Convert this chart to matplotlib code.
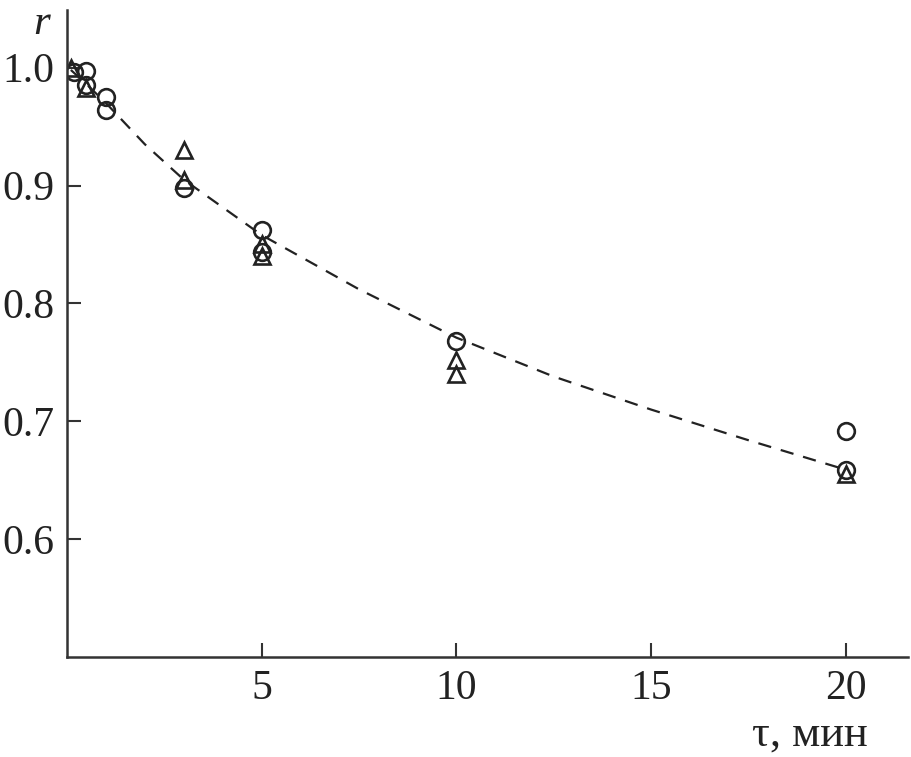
import matplotlib
matplotlib.use('Agg')
import matplotlib.pyplot as plt

# circles
circ_t = [0.17, 0.5, 0.5, 1.0, 1.0, 3, 5, 5, 10, 20, 20]
circ_r = [0.996, 0.997, 0.985, 0.975, 0.964, 0.898, 0.862, 0.844, 0.768, 0.692, 0.659]

# triangles
tri_t = [0.1, 0.5, 3, 3, 5, 5, 10, 10, 20]
tri_r = [1.0, 0.983, 0.930, 0.905, 0.850, 0.840, 0.752, 0.740, 0.655]

# dashed fit curve
fit_t = [0.1, 0.5, 1, 2, 3, 5, 7.5, 10, 12.5, 15, 17.5, 20]
fit_r = [0.998, 0.986, 0.970, 0.935, 0.905, 0.858, 0.812, 0.771, 0.738, 0.710, 0.684, 0.659]

xticks = [5, 10, 15, 20]
yticks = [0.6, 0.7, 0.8, 0.9, 1.0]

plt.rcParams['font.family'] = ['Liberation Serif', 'DejaVu Serif']

fig = plt.figure(figsize=(9.11, 7.57), dpi=100)
ax = fig.add_axes([0.0735, 0.132, 0.923, 0.855])

ax.plot(fit_t, fit_r, '--', color='#222222', lw=1.6, dashes=(6, 4.5), zorder=1)
ax.plot(circ_t, circ_r, 'o', ms=12, mfc='none', mec='#222222', mew=1.9, zorder=2)
ax.plot(tri_t, tri_r, '^', ms=12, mfc='none', mec='#222222', mew=1.9, zorder=2)

ax.set_xlim(0, 21.6)
ax.set_ylim(0.5, 1.049)
ax.set_xticks(xticks)
ax.set_yticks(yticks)
ax.set_xticklabels([str(v) for v in xticks])
ax.set_yticklabels(['%.1f' % v for v in yticks])

for s in ['top', 'right']:
    ax.spines[s].set_visible(False)
for s in ['left', 'bottom']:
    ax.spines[s].set_linewidth(1.8)
    ax.spines[s].set_color('#333333')

ax.tick_params(direction='in', length=10, width=1.5, color='#333333',
               labelsize=30, pad=9, labelcolor='#222222')

fig.text(0.046, 0.968, 'r', fontsize=31, style='italic', ha='center', va='center', color='#222222')
fig.text(0.889, 0.03, 'τ, мин', fontsize=32, ha='center', va='center', color='#222222')

plt.savefig('out.png', dpi=100)
